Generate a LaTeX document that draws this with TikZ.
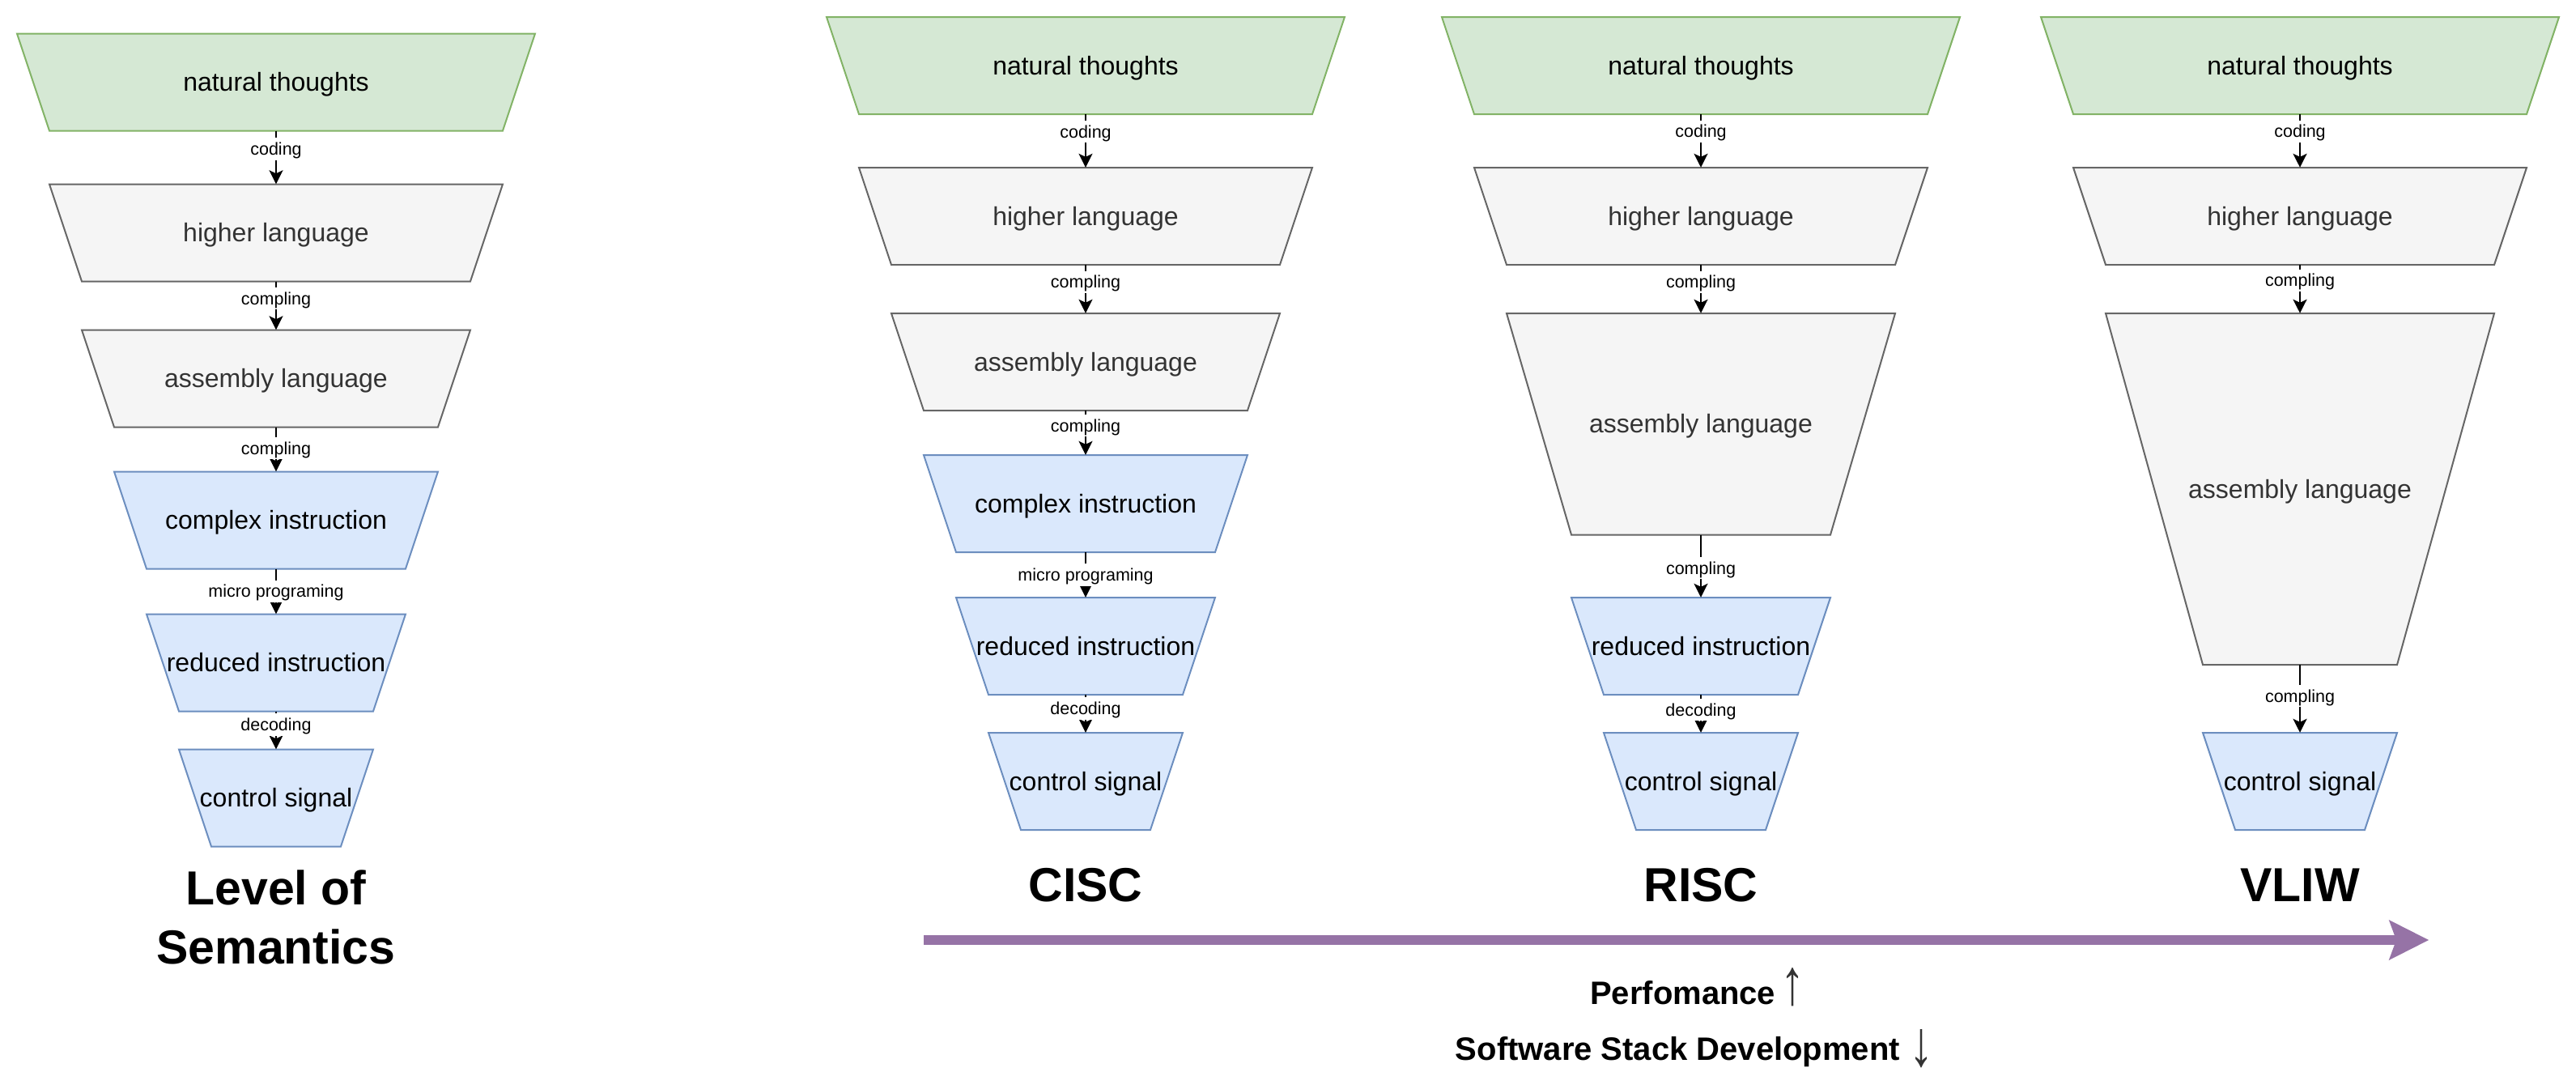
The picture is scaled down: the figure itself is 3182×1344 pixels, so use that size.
\documentclass[tikz,border=0pt]{standalone}
\usepackage{fontspec}
\usepackage{graphicx}
\setmainfont{Liberation Sans}
\usetikzlibrary{arrows.meta}
\definecolor{gfill}{HTML}{D5E8D4}
\definecolor{gline}{HTML}{82B366}
\definecolor{wfill}{HTML}{F5F5F5}
\definecolor{wline}{HTML}{666666}
\definecolor{wtxtc}{HTML}{333333}
\definecolor{bfill}{HTML}{DAE8FC}
\definecolor{bline}{HTML}{6C8EBF}
\definecolor{purp}{HTML}{9673A6}
\definecolor{arrgray}{HTML}{333333}
% #1 name, #2 kind (g/w/b), #3 centre x, #4 top y, #5 bottom y, #6 half top width, #7 half bottom width, #8 text
\newcommand{\TrapBox}[8]{%
  \path[#2shape] (#3-#6,#4) -- (#3+#6,#4) -- (#3+#7,#5) -- (#3-#7,#5) -- cycle;
  \node[#2text, minimum height={#5-#4}] (#1) at (#3,{(#4+#5)/2}) {#8};
}
\begin{document}
\begin{tikzpicture}[x=1pt,y=-1pt,
  gshape/.style={fill=gfill,draw=gline,line width=2pt,line join=miter},
  wshape/.style={fill=wfill,draw=wline,line width=2pt,line join=miter},
  bshape/.style={fill=bfill,draw=bline,line width=2pt,line join=miter},
  boxtext/.style={inner sep=0pt,font=\fontsize{32}{38}\selectfont,text height=29pt,text depth=6.8pt},
  gtext/.style={boxtext,text=black},
  wtext/.style={boxtext,text=wtxtc},
  btext/.style={boxtext,text=black},
  conn/.style={draw=black,line width=2pt,-{Stealth[length=17pt,width=17pt,inset=4pt]}},
  lbl/.style={fill=white,inner sep=1.5pt,font=\fontsize{21.5}{24}\selectfont,text=black,text height=19.5pt,text depth=4.6pt},
  title/.style={font=\fontsize{59}{70}\selectfont\bfseries,anchor=base,text=black},
  foot/.style={font=\fontsize{40}{48}\selectfont\bfseries,anchor=base,text=black}
]
\fill[white] (0,0) rectangle (3182,1344);
\useasboundingbox (0,0) rectangle (3182,1344);

% ---------- column 1: Level of Semantics ----------
\TrapBox{n1}{g}{341}{41.5}{161.5}{320}{280}{natural thoughts}
\TrapBox{h1}{w}{341}{227.5}{347.5}{280}{240}{higher language}
\TrapBox{a1}{w}{341}{407.5}{527.5}{240}{200}{assembly language}
\TrapBox{c1}{b}{341}{582.5}{702.5}{200}{160}{complex instruction}
\TrapBox{r1}{b}{341}{758.5}{878.5}{160}{120}{reduced instruction}
\TrapBox{s1}{b}{341}{925.5}{1045.5}{120}{80}{control signal}
\draw[conn] (n1.south) -- node[lbl,pos=0.34]{coding} (h1.north);
\draw[conn] (h1.south) -- node[lbl,pos=0.35]{compling} (a1.north);
\draw[conn] (a1.south) -- node[lbl,pos=0.48]{compling} (c1.north);
\draw[conn] (c1.south) -- node[lbl,pos=0.5]{micro programing} (r1.north);
\draw[conn] (r1.south) -- node[lbl,pos=0.35]{decoding} (s1.north);
\node[title] (lvl1) at (341,1117) {Level of};
\node[title] (lvl2) at (341,1190) {Semantics};

% ---------- column 2: CISC ----------
\TrapBox{n2}{g}{1341}{21}{141}{320}{280}{natural thoughts}
\TrapBox{h2}{w}{1341}{207}{327}{280}{240}{higher language}
\TrapBox{a2}{w}{1341}{387}{507}{240}{200}{assembly language}
\TrapBox{c2}{b}{1341}{562}{682}{200}{160}{complex instruction}
\TrapBox{r2}{b}{1341}{738}{858}{160}{120}{reduced instruction}
\TrapBox{s2}{b}{1341}{905}{1025}{120}{80}{control signal}
\draw[conn] (n2.south) -- node[lbl,pos=0.33]{coding} (h2.north);
\draw[conn] (h2.south) -- node[lbl,pos=0.35]{compling} (a2.north);
\draw[conn] (a2.south) -- node[lbl,pos=0.34]{compling} (c2.north);
\draw[conn] (c2.south) -- node[lbl,pos=0.5]{micro programing} (r2.north);
\draw[conn] (r2.south) -- node[lbl,pos=0.36]{decoding} (s2.north);
\node[title] (cisc) at (1341,1113) {CISC};

% ---------- column 3: RISC ----------
\TrapBox{n3}{g}{2101}{21}{141}{320}{280}{natural thoughts}
\TrapBox{h3}{w}{2101}{207}{327}{280}{240}{higher language}
\TrapBox{a3}{w}{2101}{387}{660.5}{240}{160}{assembly language}
\TrapBox{r3}{b}{2101}{738}{858}{160}{120}{reduced instruction}
\TrapBox{s3}{b}{2101}{905}{1025}{120}{80}{control signal}
\draw[conn] (n3.south) -- node[lbl,pos=0.32]{coding} (h3.north);
\draw[conn] (h3.south) -- node[lbl,pos=0.35]{compling} (a3.north);
\draw[conn] (a3.south) -- node[lbl,pos=0.53]{compling} (r3.north);
\draw[conn] (r3.south) -- node[lbl,pos=0.40]{decoding} (s3.north);
\node[title] (risc) at (2101,1113) {RISC};

% ---------- column 4: VLIW ----------
\TrapBox{n4}{g}{2841}{21}{141}{320}{280}{natural thoughts}
\TrapBox{h4}{w}{2841}{207}{327}{280}{240}{higher language}
\TrapBox{a4}{w}{2841}{387}{821}{240}{120}{assembly language}
\TrapBox{s4}{b}{2841}{905}{1025}{120}{80}{control signal}
\draw[conn] (n4.south) -- node[lbl,pos=0.32]{coding} (h4.north);
\draw[conn] (h4.south) -- node[lbl,pos=0.32]{compling} (a4.north);
\draw[conn] (a4.south) -- node[lbl,pos=0.46]{compling} (s4.north);
\node[title] (vliw) at (2841,1113) {VLIW};

% ---------- evolution arrow ----------
\coordinate (ps) at (1141,1161);
\coordinate (pe) at (2962,1161);
\coordinate (ptip) at (3000,1161);
\draw[purp,line width=11.5pt] (ps) -- (pe);
\fill[purp] (2950.7,1136) -- (ptip) -- (2950.7,1186) -- (2960,1161) -- cycle;

\node[foot] (perf) at (2097,1240) {Perfomance\,{\color{arrgray}\scalebox{1.5}[2.0]{↑}}};
\node[foot] (soft) at (2093,1309) {Software Stack Development {\color{arrgray}\raisebox{-7pt}{\scalebox{1.5}[2.0]{↓}}}};
\end{tikzpicture}
\end{document}
